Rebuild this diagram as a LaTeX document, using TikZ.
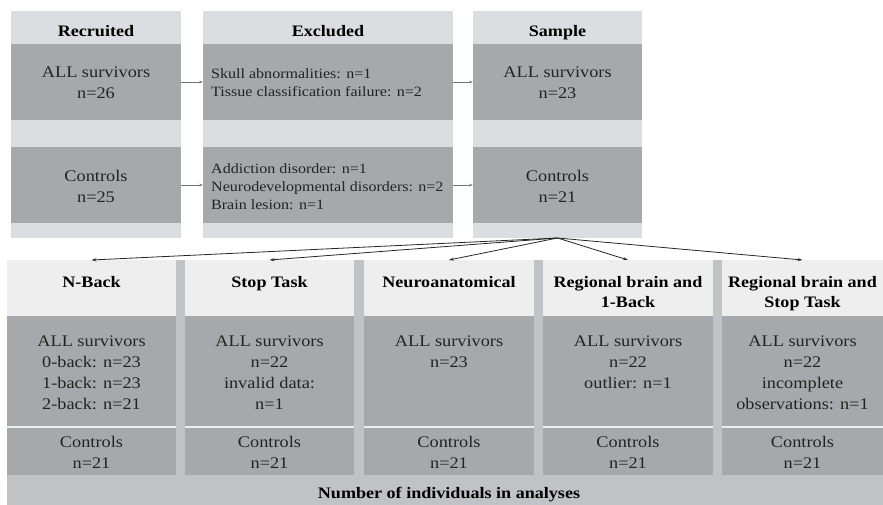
\documentclass[tikz,border=0pt]{standalone}
\usepackage{fontspec}
\setmainfont[FakeStretch=1.13]{Liberation Serif}
\usetikzlibrary{arrows.meta}
\definecolor{hdr}{RGB}{220,221,224}
\definecolor{dark}{RGB}{167,168,171}
\definecolor{bhdr}{RGB}{238,238,238}
\definecolor{bgg}{RGB}{193,194,197}
\definecolor{txt}{RGB}{35,35,35}
\definecolor{arr}{RGB}{115,115,115}
\begin{document}
\begin{tikzpicture}[x=1pt,y=-1pt,
  blk/.style={rectangle, draw=none, inner sep=0pt, outer sep=0pt},
  lightcol/.style={blk, fill=hdr},
  lowcol/.style={blk, fill=bhdr},
  dk/.style={blk, fill=dark},
  hd/.style={inner sep=0pt, font=\fontsize{16}{20}\selectfont\bfseries, text=black, align=center},
  tx/.style={inner sep=0pt, font=\fontsize{16.2}{21}\selectfont, text=txt, align=center},
  ex/.style={inner sep=0pt, font=\fontsize{14.2}{18}\selectfont, text=txt, align=left, anchor=west},
  grayarrow/.style={draw=arr, line width=0.8pt, -{Stealth[length=4pt,width=2.6pt]}},
  fanarrow/.style={draw=black!85, line width=0.8pt, -{Stealth[length=5pt,width=3pt]}}
]
\useasboundingbox (0,0) rectangle (883,505);
\fill[white] (0,0) rectangle (883,505);

% ---------- top section ----------
\node[lightcol, minimum width=170pt, minimum height=227pt] (reccol) at (96,124.5) {};
\node[lightcol, minimum width=250pt, minimum height=227pt] (exccol) at (328,124.5) {};
\node[lightcol, minimum width=169pt, minimum height=227pt] (samcol) at (557.5,124.5) {};

\node[hd, anchor=base] (hrec) at (96,37) {Recruited};
\node[hd, anchor=base] (hexc) at (328,37) {Excluded};
\node[hd, anchor=base] (hsam) at (557.5,37) {Sample};

\node[dk, minimum width=170pt, minimum height=76pt] (rec1) at (96,82) {};
\node[dk, minimum width=170pt, minimum height=76pt] (rec2) at (96,185) {};
\node[dk, minimum width=250pt, minimum height=76pt] (exc1) at (328,82) {};
\node[dk, minimum width=250pt, minimum height=76pt] (exc2) at (328,185) {};
\node[dk, minimum width=169pt, minimum height=76pt] (sam1) at (557.5,82) {};
\node[dk, minimum width=169pt, minimum height=76pt] (sam2) at (557.5,185) {};

\node[tx, yshift=-1pt] (trec1) at (rec1) {ALL survivors\\n=26};
\node[tx, yshift=-1pt] (trec2) at (rec2) {Controls\\n=25};
\node[tx, yshift=-1pt] (tsam1) at (sam1) {ALL survivors\\n=23};
\node[tx, yshift=-1pt] (tsam2) at (sam2) {Controls\\n=21};
\node[ex, yshift=-1pt] (texc1) at (211,82) {Skull abnormalities: n=1\\Tissue classification failure: n=2};
\node[ex, yshift=-1pt] (texc2) at (211,186) {Addiction disorder: n=1\\Neurodevelopmental disorders: n=2\\Brain lesion: n=1};

\draw[grayarrow] (rec1.east) -- (exc1.west);
\draw[grayarrow] (rec2.east) -- (exc2.west);
\draw[grayarrow] (exc1.east) -- (sam1.west);
\draw[grayarrow] (exc2.east) -- (sam2.west);

% ---------- bottom section ----------
\node[blk, fill=bgg, minimum width=876pt, minimum height=245pt] (bottom) at (445,382.5) {};

\node[lowcol, minimum width=169pt, minimum height=215pt] (col1) at (91.5,367.5) {};
\node[lowcol, minimum width=169pt, minimum height=215pt] (col2) at (269.5,367.5) {};
\node[lowcol, minimum width=170pt, minimum height=215pt] (col3) at (449,367.5) {};
\node[lowcol, minimum width=170pt, minimum height=215pt] (col4) at (628,367.5) {};
\node[lowcol, minimum width=161pt, minimum height=215pt] (col5) at (802.5,367.5) {};

\foreach \c/\w in {1/169,2/169,3/170,4/170,5/161}{
  \node[dk, minimum width=\w pt, minimum height=110pt] (a\c) at (col\c |- 0,371) {};
  \node[dk, minimum width=\w pt, minimum height=47pt] (b\c) at (col\c |- 0,451.5) {};
}

\node[hd, anchor=north] (h1) at (col1 |- 0,276) {N-Back};
\node[hd, anchor=north] (h2) at (col2 |- 0,276) {Stop Task};
\node[hd, anchor=north] (h3) at (col3 |- 0,276) {Neuroanatomical};
\node[hd, anchor=north] (h4) at (col4 |- 0,276) {Regional brain and\\1-Back};
\node[hd, anchor=north] (h5) at (col5 |- 0,276) {Regional brain and\\Stop Task};

\node[tx, anchor=north] (ta1) at (col1 |- 0,336) {ALL survivors\\0-back: n=23\\1-back: n=23\\2-back: n=21};
\node[tx, anchor=north] (ta2) at (col2 |- 0,336) {ALL survivors\\n=22\\invalid data:\\n=1};
\node[tx, anchor=north] (ta3) at (col3 |- 0,336) {ALL survivors\\n=23};
\node[tx, anchor=north] (ta4) at (col4 |- 0,336) {ALL survivors\\n=22\\outlier: n=1};
\node[tx, anchor=north] (ta5) at (col5 |- 0,336) {ALL survivors\\n=22\\incomplete\\observations: n=1};

\foreach \c in {1,...,5}{
  \node[tx, anchor=north] (tb\c) at (col\c |- 0,436) {Controls\\n=21};
}

\node[hd, anchor=base] (total) at (449,498) {Number of individuals in analyses};

\foreach \c in {1,...,5}{
  \draw[fanarrow] (samcol.south) -- (col\c.north);
}
\end{tikzpicture}
\end{document}
